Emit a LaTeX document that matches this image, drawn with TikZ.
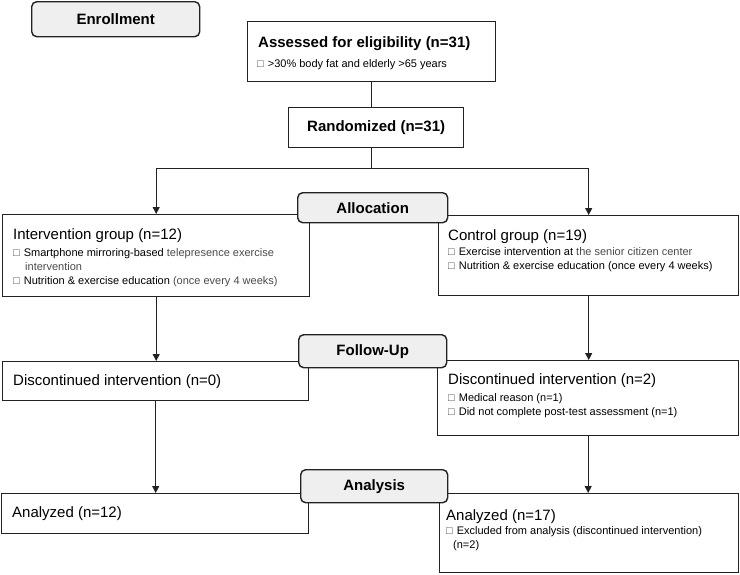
\documentclass[tikz,border=0pt]{standalone}
\usepackage{fontspec}
\setmainfont{Liberation Sans}
\usetikzlibrary{arrows.meta}
\definecolor{stagefill}{HTML}{EFEFEF}
\definecolor{lineclr}{HTML}{222222}
\definecolor{soft}{HTML}{4A4A4A}
\tikzset{
  box/.style={draw=lineclr, line width=1.4pt, anchor=north west, inner sep=0pt},
  stage/.style={draw=lineclr, fill=stagefill, rounded corners=5pt, line width=1.4pt, anchor=north west, inner sep=0pt,
     font=\bfseries\fontsize{15}{17}\selectfont},
  bigbold/.style={inner sep=0pt, font=\bfseries\fontsize{15}{17}\selectfont},
  ttl/.style={anchor=base west, inner sep=0pt, font=\fontsize{15}{17}\selectfont},
  itm/.style={anchor=base west, inner sep=0pt, font=\fontsize{11}{13}\selectfont},
  conn/.style={draw=lineclr, line width=0.9pt},
  arr/.style={conn, -{Triangle[length=7pt,width=7pt]}}
}
\newcommand{\bx}{\textcolor{soft}{\fontsize{11}{13}\selectfont □}\hspace{4pt}}
\begin{document}
\begin{tikzpicture}[x=1pt,y=-1pt]
\useasboundingbox (0,0) rectangle (740,574);
% boxes
\node[box, minimum width=248pt, minimum height=60pt] (ass) at (247,21) {};
\node[box, minimum width=175pt, minimum height=40pt] (rand) at (288,107) {};
\node[box, minimum width=307pt, minimum height=82pt] (int) at (2,214) {};
\node[box, minimum width=300pt, minimum height=80pt] (ctrl) at (438,215) {};
\node[box, minimum width=306pt, minimum height=39pt] (d0) at (2,361) {};
\node[box, minimum width=301pt, minimum height=75pt] (d2) at (437,360) {};
\node[box, minimum width=307pt, minimum height=40pt] (a12) at (1,493) {};
\node[box, minimum width=299pt, minimum height=79pt] (a17) at (439,493) {};

% texts
\node[bigbold, anchor=base west] (asst) at (258,47) {Assessed for eligibility (n=31)};
\node[itm] (assi) at (257,67) {\bx{}>30\% body fat and elderly >65 years};
\node[bigbold] (randt) at (rand.center) {Randomized (n=31)};

\node[ttl] (intt) at (13,239) {Intervention group (n=12)};
\node[itm] (inti1) at (13,256) {\bx{}Smartphone mirroring-based \textcolor{soft}{telepresence exercise}};
\node[itm] (inti2) at (25,270) {\textcolor{soft}{intervention}};
\node[itm] (inti3) at (13,284) {\bx{}Nutrition \& exercise education \textcolor{soft}{(once every 4 weeks)}};

\node[ttl] (ctrlt) at (448,240) {Control group (n=19)};
\node[itm] (ctrli1) at (448,255) {\bx{}Exercise intervention at \textcolor{soft}{the senior citizen center}};
\node[itm] (ctrli2) at (448,269) {\bx{}Nutrition \& exercise education (once every 4 weeks)};

\node[ttl] (d0t) at (13,385) {Discontinued intervention (n=0)};

\node[ttl] (d2t) at (448,384) {Discontinued intervention (n=2)};
\node[itm] (d2i1) at (448,401) {\bx{}Medical reason (n=1)};
\node[itm] (d2i2) at (448,415) {\bx{}Did not complete post-test assessment (n=1)};

\node[ttl] (a12t) at (12,517) {Analyzed (n=12)};

\node[ttl] (a17t) at (446,520) {Analyzed (n=17)};
\node[itm] (a17i1) at (446,534) {\bx{}Excluded from analysis (discontinued intervention)};
\node[itm] (a17i2) at (453,548) {(n=2)};

% connectors
\coordinate (split) at (371,168);
\draw[conn] (ass.south) -- (ass.south |- rand.north);
\draw[conn] (split |- rand.south) -- (split);
\draw[arr] (split) -| (int.north);
\draw[arr] (split) -| (ctrl.north);
\draw[arr] (int.south) -- (int.south |- d0.north);
\draw[arr] (ctrl.south) -- (ctrl.south |- d2.north);
\draw[arr] (d0.south) -- (d0.south |- a12.north);
\draw[arr] (d2.south) -- (d2.south |- a17.north);

% stage labels
\node[stage, minimum width=168pt, minimum height=35pt] (enr) at (31,1) {Enrollment};
\node[stage, minimum width=150pt, minimum height=30pt] (alloc) at (297,192) {Allocation};
\node[stage, minimum width=148pt, minimum height=33pt] (fu) at (298,334) {Follow-Up};
\node[stage, minimum width=147pt, minimum height=33pt] (anal) at (300,469) {Analysis};
\end{tikzpicture}
\end{document}
